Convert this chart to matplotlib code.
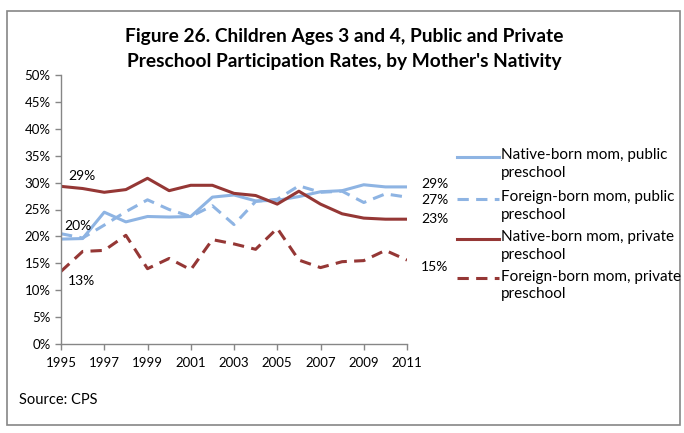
import matplotlib
matplotlib.use("Agg")
from matplotlib import pyplot as plt
from matplotlib.lines import Line2D
from matplotlib.patches import FancyBboxPatch
import numpy as np

years = list(range(1995, 2012))

# participation rates (%)
native_public = [19.5, 19.6, 24.5, 22.7, 23.7, 23.6, 23.7, 27.3, 27.7, 26.6,
                 26.7, 27.4, 28.3, 28.5, 29.6, 29.2, 29.2]
foreign_public = [20.5, 19.7, 22.1, 24.6, 26.8, 25.0, 23.7, 25.7, 22.2, 26.5,
                  26.9, 29.4, 28.2, 28.4, 26.3, 27.9, 27.3]
native_private = [29.3, 28.9, 28.2, 28.7, 30.8, 28.5, 29.5, 29.5, 28.0, 27.6,
                  26.0, 28.4, 26.0, 24.2, 23.4, 23.2, 23.2]
foreign_private = [13.5, 17.2, 17.4, 20.2, 14.0, 15.9, 13.8, 19.4, 18.6, 17.6,
                   21.5, 15.6, 14.2, 15.3, 15.5, 17.4, 15.6]

labels = ["Native-born mom, public\npreschool",
          "Foreign-born mom, public\npreschool",
          "Native-born mom, private\npreschool",
          "Foreign-born mom, private\npreschool"]

blue = "#8EB4E3"
red = "#953735"
dash = (0, (3.7, 2.4))

plt.rcParams['font.family'] = ['Lato', 'DejaVu Sans']

fig = plt.figure(figsize=(6.84, 4.33), dpi=100)

# outer chart border
fig.add_artist(FancyBboxPatch((7/684, 1-425/433), 673/684, 414/433,
                              boxstyle="square,pad=0", transform=fig.transFigure,
                              fill=False, edgecolor="#868686", lw=1.2))

ax = fig.add_axes([61/684, 1-344/433, (407-61)/684, (344-75)/433])

series = [(native_public, blue, '-'), (foreign_public, blue, dash),
          (native_private, red, '-'), (foreign_private, red, dash)]
for vals, col, ls in series:
    ax.plot(years, np.array(vals)/100, color=col, ls=ls, lw=2.2,
            solid_capstyle='butt', dash_capstyle='butt')

ax.set_xlim(1995, 2011)
ax.set_ylim(0, 0.5)
ax.set_xticks(range(1995, 2012, 2))
ax.set_yticks(np.arange(0, 0.51, 0.05))
ax.set_yticklabels([f"{int(round(v*100))}%" for v in np.arange(0, 0.51, 0.05)])
for s in ['top', 'right']:
    ax.spines[s].set_visible(False)
for s in ['left', 'bottom']:
    ax.spines[s].set_color("#868686")
    ax.spines[s].set_linewidth(1.0)
ax.tick_params(axis='both', colors="#868686", labelcolor="black", labelsize=9.5,
               direction='out', length=4.5, width=1.0)
ax.tick_params(axis='x', pad=5)
ax.tick_params(axis='y', pad=3)

# data labels
def lab(x, v, txt, dx, dy):
    ax.annotate(txt, xy=(x, v/100), xytext=(dx, dy), textcoords='offset pixels',
                ha='left', va='center', fontsize=10)

lab(1995, native_private[0], "29%", 7, 10)
lab(1995, foreign_public[0], "20%", 3, 8)
lab(1995, foreign_private[0], "13%", 7, -10)
lab(2011, native_public[-1], "29%", 14, 3)
lab(2011, foreign_public[-1], "27%", 14, -3)
lab(2011, native_private[-1], "23%", 14, 0)
lab(2011, foreign_private[-1], "15%", 14, -7)

# legend, handle level with the first text line
leg_y = [157, 199, 239, 278]
for (vals, col, ls), txt, y in zip(series, labels, leg_y):
    fig.add_artist(Line2D([457/684, 499/684], [1-y/433, 1-y/433], color=col,
                          ls=ls, lw=2.2, transform=fig.transFigure))
    fig.text(501/684, 1-(y-8.5)/433, txt, ha='left', va='top', fontsize=11,
             linespacing=1.3)

fig.text(344/684, 1-49/433,
         "Figure 26. Children Ages 3 and 4, Public and Private\n"
         "Preschool Participation Rates, by Mother's Nativity",
         ha='center', va='center', fontsize=13.8, fontweight='bold', linespacing=1.55)

fig.text(19/684, 1-400/433, "Source: CPS", ha='left', va='center', fontsize=10.5)

plt.savefig("out.png", dpi=100)
